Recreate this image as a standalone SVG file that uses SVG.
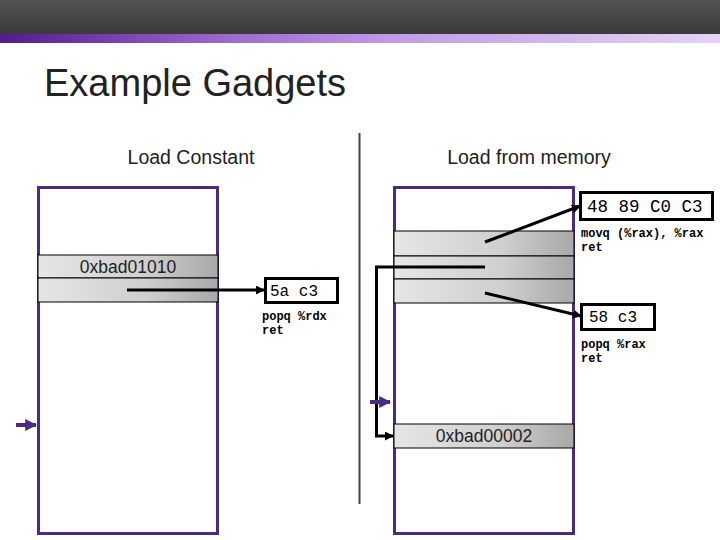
<svg xmlns="http://www.w3.org/2000/svg" width="720" height="540" viewBox="0 0 720 540">
<defs>
<linearGradient id="hdr" x1="0" y1="0" x2="0" y2="1">
<stop offset="0" stop-color="#525252"/><stop offset="1" stop-color="#3a3a3a"/>
</linearGradient>
<linearGradient id="bar" x1="0" y1="0" x2="1" y2="0">
<stop offset="0" stop-color="#55198f"/><stop offset="0.3" stop-color="#9a66cc"/><stop offset="0.55" stop-color="#c29ce8"/><stop offset="1" stop-color="#e4d4f4"/>
</linearGradient>
<linearGradient id="cell" x1="0" y1="0" x2="1" y2="0">
<stop offset="0" stop-color="#e6e6e6"/><stop offset="0.6" stop-color="#cfcfcf"/><stop offset="1" stop-color="#a8a8a8"/>
</linearGradient>
<marker id="ah" viewBox="0 0 10 10" refX="9" refY="5" markerWidth="3" markerHeight="3" orient="auto">
<path d="M0,0 L10,5 L0,10 z" fill="#000"/>
</marker>
<marker id="ph" viewBox="0 0 10 10" refX="9" refY="5" markerWidth="3" markerHeight="3.5" orient="auto">
<path d="M0,0 L10,5 L0,10 z" fill="#4b2a82"/>
</marker>
</defs>
<style>
.stack{fill:#fff;stroke:#4b2a82;stroke-width:3}
.cell{fill:url(#cell);stroke:#000;stroke-width:1}
.box{fill:#fff;stroke:#000;stroke-width:3}
.sans{font-family:"Liberation Sans",Arial,sans-serif;fill:#222}
.mono{font-family:"Liberation Mono","Courier New",monospace;fill:#000}
.asm{font-family:"Liberation Mono","Courier New",monospace;font-size:12px;font-weight:bold;fill:#000}
.conn{stroke:#000;stroke-width:3;fill:none}
.parrow{stroke:#4b2a82;stroke-width:4;fill:none}
</style>
<rect x="0" y="0" width="720" height="35" fill="url(#hdr)"/>
<rect x="0" y="34" width="720" height="9" fill="url(#bar)"/>
<text x="44" y="96" class="sans" font-size="38" fill="#333">Example Gadgets</text>
<text x="191" y="164" class="sans" font-size="19.5" text-anchor="middle">Load Constant</text>
<text x="529" y="164" class="sans" font-size="19.5" text-anchor="middle">Load from memory</text>
<line x1="359.5" y1="133" x2="359.5" y2="504" stroke="#444" stroke-width="2"/>

<g id="left-stack">
<rect class="stack" x="38.5" y="187.5" width="179" height="346"/>
<rect class="cell" x="38" y="255" width="180" height="23"/>
<text x="128" y="273" class="sans" font-size="17.5" text-anchor="middle" fill="#000">0xbad01010</text>
<rect class="cell" x="38" y="278" width="180" height="24"/>
</g>

<g id="right-stack">
<rect class="stack" x="394.5" y="187.5" width="179" height="346"/>
<rect class="cell" x="394" y="231" width="180" height="25"/>
<rect class="cell" x="394" y="256" width="180" height="23"/>
<rect class="cell" x="394" y="279" width="180" height="24"/>
<rect class="cell" x="394" y="424" width="180" height="24"/>
<text x="484" y="442" class="sans" font-size="17.5" text-anchor="middle" fill="#000">0xbad00002</text>
</g>

<g id="gadget-5ac3">
<rect class="box" x="265.5" y="278.5" width="72" height="24"/>
<text x="270" y="296" class="mono" font-size="16">5a c3</text>
<text x="262" y="320" class="asm">popq %rdx</text>
<text x="262" y="334" class="asm">ret</text>
</g>

<g id="gadget-4889">
<rect class="box" x="580.5" y="192.5" width="132" height="27"/>
<text x="587" y="212" class="mono" font-size="17.5">48 89 C0 C3</text>
<text x="581" y="237" class="asm">movq (%rax), %rax</text>
<text x="581" y="251" class="asm">ret</text>
</g>

<g id="gadget-58c3">
<rect class="box" x="581.5" y="304.5" width="73" height="25"/>
<text x="589" y="322" class="mono" font-size="16">58 c3</text>
<text x="581" y="348" class="asm">popq %rax</text>
<text x="581" y="362" class="asm">ret</text>
</g>

<g id="connectors">
<line class="conn" x1="127" y1="290" x2="264" y2="290" marker-end="url(#ah)"/>
<line class="conn" x1="485" y1="242" x2="580" y2="206" marker-end="url(#ah)"/>
<line class="conn" x1="485" y1="293" x2="581" y2="316" marker-end="url(#ah)"/>
<polyline class="conn" points="485,267 376.5,267 376.5,436 393,436" marker-end="url(#ah)"/>
<line class="parrow" x1="16" y1="425" x2="36" y2="425" marker-end="url(#ph)"/>
<line class="parrow" x1="370" y1="402" x2="390" y2="402" marker-end="url(#ph)"/>
</g>
</svg>
